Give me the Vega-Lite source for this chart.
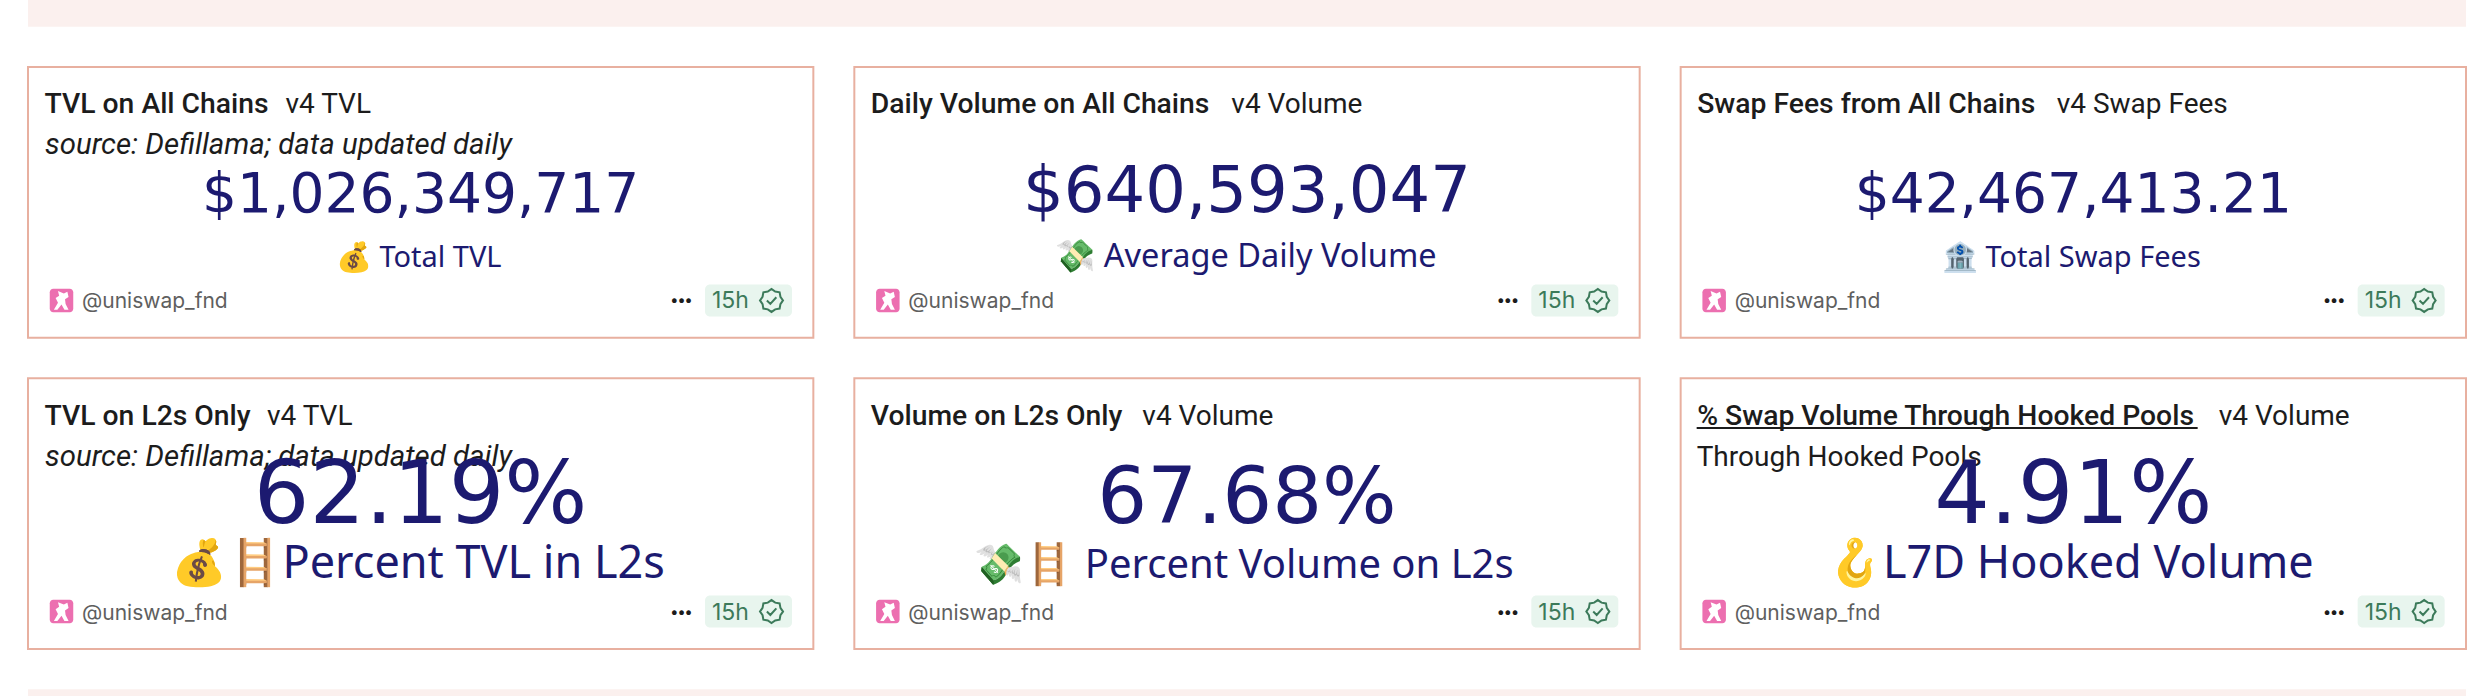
{
  "$schema": "https://vega.github.io/schema/vega-lite/v6.json",
  "width": 2438,
  "height": 696,
  "autosize": "none",
  "padding": {"left": 28, "right": 20, "top": 0, "bottom": 0},
  "background": "white",
  "config": {"view": {"stroke": null}},
  "datasets": {
    "cards": [
      {"card": "tvl_all", "col": "a", "row": "r1", "title": "TVL on All Chains", "tab": "v4 TVL", "note": "source: Defillama; data updated daily", "value": "$1,026,349,717", "label": "💰 Total TVL", "handle": "@uniswap_fnd", "age": "15h"},
      {"card": "vol_all", "col": "b", "row": "r1", "title": "Daily Volume on All Chains", "tab": "v4 Volume", "note": "", "value": "$640,593,047", "label": "💸 Average Daily Volume", "handle": "@uniswap_fnd", "age": "15h"},
      {"card": "fees_all", "col": "c", "row": "r1", "title": "Swap Fees from All Chains", "tab": "v4 Swap Fees", "note": "", "value": "$42,467,413.21", "label": "🏦 Total Swap Fees", "handle": "@uniswap_fnd", "age": "15h"},
      {"card": "tvl_l2", "col": "a", "row": "r2", "title": "TVL on L2s Only", "tab": "v4 TVL", "note": "source: Defillama; data updated daily", "value": "62.19%", "label": "💰🪜Percent TVL in L2s", "handle": "@uniswap_fnd", "age": "15h"},
      {"card": "vol_l2", "col": "b", "row": "r2", "title": "Volume on L2s Only", "tab": "v4 Volume", "note": "", "value": "67.68%", "label": "💸🪜 Percent Volume on L2s", "handle": "@uniswap_fnd", "age": "15h"},
      {"card": "hooked", "col": "c", "row": "r2", "title": "% Swap Volume Through Hooked Pools", "tab": "v4 Volume", "note": "Through Hooked Pools", "value": "4.91%", "label": "🪝L7D Hooked Volume", "handle": "@uniswap_fnd", "age": "15h"}
    ],
    "bands": [{"row": "r0"}, {"row": "r3"}]
  },
  "data": {"name": "cards"},
  "encoding": {
    "x": {"field": "col", "type": "nominal", "axis": null, "scale": {"domain": ["a", "b", "c"], "paddingInner": 0.0496, "paddingOuter": 0}},
    "y": {"field": "row", "type": "nominal", "axis": null, "scale": {"domain": ["r0", "r1", "r2", "r3"], "range": [-244, 960], "paddingInner": 0.13, "paddingOuter": 0}}
  },
  "layer": [
    {
      "data": {"name": "bands"},
      "mark": {"type": "rect", "color": "#fbf0ee", "clip": true},
      "encoding": {"x": {"value": 0}, "x2": {"value": 2438}}
    },
    {"mark": {"type": "rect", "fill": "white", "stroke": "#e8b0a0", "strokeWidth": 2}},
    {
      "mark": {"type": "text", "align": "left", "baseline": "alphabetic", "font": "Roboto", "fontWeight": 500, "fontSize": 28.3, "color": "#1c1c1c", "xOffset": 16.5, "yOffset": -89},
      "encoding": {"x": {"field": "col", "bandPosition": 0}, "text": {"field": "title"}}
    },
    {
      "transform": [{"filter": "datum.card == 'hooked'"}],
      "mark": {"type": "point", "shape": "M-1,-0.004 H1 V0.004 H-1 Z", "size": 251001, "filled": true, "opacity": 1, "color": "#1c1c1c", "xOffset": 266.5, "yOffset": -85.5},
      "encoding": {"x": {"field": "col", "bandPosition": 0}}
    },
    {
      "transform": [{"filter": "datum.card == 'tvl_all'"}],
      "mark": {"type": "text", "align": "left", "baseline": "alphabetic", "font": "Roboto", "fontSize": 28, "color": "#1c1c1c", "xOffset": 257.5, "yOffset": -89},
      "encoding": {"x": {"field": "col", "bandPosition": 0}, "text": {"field": "tab"}}
    },
    {
      "transform": [{"filter": "datum.card == 'vol_all'"}],
      "mark": {"type": "text", "align": "left", "baseline": "alphabetic", "font": "Roboto", "fontSize": 28, "color": "#1c1c1c", "xOffset": 377, "yOffset": -89},
      "encoding": {"x": {"field": "col", "bandPosition": 0}, "text": {"field": "tab"}}
    },
    {
      "transform": [{"filter": "datum.card == 'fees_all'"}],
      "mark": {"type": "text", "align": "left", "baseline": "alphabetic", "font": "Roboto", "fontSize": 28, "color": "#1c1c1c", "xOffset": 376, "yOffset": -89},
      "encoding": {"x": {"field": "col", "bandPosition": 0}, "text": {"field": "tab"}}
    },
    {
      "transform": [{"filter": "datum.card == 'tvl_l2'"}],
      "mark": {"type": "text", "align": "left", "baseline": "alphabetic", "font": "Roboto", "fontSize": 28, "color": "#1c1c1c", "xOffset": 239, "yOffset": -89},
      "encoding": {"x": {"field": "col", "bandPosition": 0}, "text": {"field": "tab"}}
    },
    {
      "transform": [{"filter": "datum.card == 'vol_l2'"}],
      "mark": {"type": "text", "align": "left", "baseline": "alphabetic", "font": "Roboto", "fontSize": 28, "color": "#1c1c1c", "xOffset": 288, "yOffset": -89},
      "encoding": {"x": {"field": "col", "bandPosition": 0}, "text": {"field": "tab"}}
    },
    {
      "transform": [{"filter": "datum.card == 'hooked'"}],
      "mark": {"type": "text", "align": "left", "baseline": "alphabetic", "font": "Roboto", "fontSize": 28, "color": "#1c1c1c", "xOffset": 538, "yOffset": -89},
      "encoding": {"x": {"field": "col", "bandPosition": 0}, "text": {"field": "tab"}}
    },
    {
      "transform": [{"filter": "datum.card != 'hooked'"}],
      "mark": {"type": "text", "align": "left", "baseline": "alphabetic", "font": "Roboto", "fontStyle": "italic", "fontSize": 29.4, "color": "#1c1c1c", "xOffset": 17, "yOffset": -48},
      "encoding": {"x": {"field": "col", "bandPosition": 0}, "text": {"field": "note"}}
    },
    {
      "transform": [{"filter": "datum.card == 'hooked'"}],
      "mark": {"type": "text", "align": "left", "baseline": "alphabetic", "font": "Roboto", "fontSize": 28, "color": "#1c1c1c", "xOffset": 16, "yOffset": -48},
      "encoding": {"x": {"field": "col", "bandPosition": 0}, "text": {"field": "note"}}
    },
    {
      "transform": [{"filter": "datum.card == 'tvl_all' || datum.card == 'fees_all'"}],
      "mark": {"type": "text", "baseline": "alphabetic", "font": "DejaVu Sans", "fontSize": 55, "color": "#1c1a70", "yOffset": 10},
      "encoding": {"text": {"field": "value"}}
    },
    {
      "transform": [{"filter": "datum.card == 'vol_all'"}],
      "mark": {"type": "text", "baseline": "alphabetic", "font": "DejaVu Sans", "fontSize": 64, "color": "#1c1a70", "yOffset": 10},
      "encoding": {"text": {"field": "value"}}
    },
    {
      "transform": [{"filter": "datum.card == 'tvl_l2' || datum.card == 'hooked'"}],
      "mark": {"type": "text", "baseline": "alphabetic", "font": "DejaVu Sans", "fontSize": 87.5, "color": "#1c1a70", "yOffset": 9.5},
      "encoding": {"text": {"field": "value"}}
    },
    {
      "transform": [{"filter": "datum.card == 'vol_l2'"}],
      "mark": {"type": "text", "baseline": "alphabetic", "font": "DejaVu Sans", "fontSize": 78.5, "color": "#1c1a70", "yOffset": 9.5},
      "encoding": {"text": {"field": "value"}}
    },
    {
      "transform": [{"filter": "datum.card == 'tvl_all' || datum.card == 'fees_all'"}],
      "mark": {"type": "text", "baseline": "alphabetic", "font": "Noto Sans", "fontSize": 29, "color": "#1c1a70", "xOffset": -2, "yOffset": 65},
      "encoding": {"text": {"field": "label"}}
    },
    {
      "transform": [{"filter": "datum.card == 'vol_all'"}],
      "mark": {"type": "text", "baseline": "alphabetic", "font": "Noto Sans", "fontSize": 32.5, "color": "#1c1a70", "xOffset": -1, "yOffset": 65},
      "encoding": {"text": {"field": "label"}}
    },
    {
      "transform": [{"filter": "datum.card == 'tvl_l2' || datum.card == 'hooked'"}],
      "mark": {"type": "text", "baseline": "alphabetic", "font": "Noto Sans", "fontSize": 45, "color": "#1c1a70", "xOffset": -3, "yOffset": 64.5},
      "encoding": {"text": {"field": "label"}}
    },
    {
      "transform": [{"filter": "datum.card == 'vol_l2'"}],
      "mark": {"type": "text", "baseline": "alphabetic", "font": "Noto Sans", "fontSize": 40, "color": "#1c1a70", "xOffset": -3, "yOffset": 64.5},
      "encoding": {"text": {"field": "label"}}
    },
    {
      "mark": {"type": "point", "shape": "M-0.7,-1 H0.7 A0.3,0.3 0 0 1 1,-0.7 V0.7 A0.3,0.3 0 0 1 0.7,1 H-0.7 A0.3,0.3 0 0 1 -1,0.7 V-0.7 A0.3,0.3 0 0 1 -0.7,-1 Z", "size": 552, "filled": true, "opacity": 1, "color": "#ec6fb0", "xOffset": 33.5, "yOffset": 98},
      "encoding": {"x": {"field": "col", "bandPosition": 0}}
    },
    {
      "mark": {"type": "point", "shape": "M-0.3,-0.8 L0.2,-0.6 L0.5,-0.75 L0.6,-0.3 L0.3,-0.1 L0.35,0.3 L0.6,0.8 L0.25,0.8 L0,0.35 L-0.35,0.8 L-0.65,0.8 L-0.3,0.2 L-0.5,-0.2 L-0.2,-0.4 Z", "size": 552, "filled": true, "opacity": 1, "color": "white", "xOffset": 33.5, "yOffset": 98},
      "encoding": {"x": {"field": "col", "bandPosition": 0}}
    },
    {
      "mark": {"type": "text", "align": "left", "baseline": "alphabetic", "font": "Inter", "fontSize": 21, "color": "#5f5f5f", "xOffset": 54, "yOffset": 106},
      "encoding": {"x": {"field": "col", "bandPosition": 0}, "text": {"field": "handle"}}
    },
    {
      "mark": {"type": "text", "align": "center", "baseline": "middle", "font": "Inter", "fontSize": 15, "fontWeight": 700, "color": "#1c1c1c", "xOffset": 653.5, "yOffset": 98},
      "encoding": {"x": {"field": "col", "bandPosition": 0}, "text": {"value": "•••"}}
    },
    {
      "mark": {"type": "point", "shape": "M-0.885,-0.368 H0.885 A0.115,0.115 0 0 1 1,-0.253 V0.253 A0.115,0.115 0 0 1 0.885,0.368 H-0.885 A0.115,0.115 0 0 1 -1,0.253 V-0.253 A0.115,0.115 0 0 1 -0.885,-0.368 Z", "size": 7569, "filled": true, "opacity": 1, "color": "#e8f5ee", "xOffset": 720.5, "yOffset": 98},
      "encoding": {"x": {"field": "col", "bandPosition": 0}}
    },
    {
      "mark": {"type": "text", "align": "left", "baseline": "alphabetic", "font": "Inter", "fontSize": 23, "color": "#3c7a5a", "xOffset": 684, "yOffset": 106},
      "encoding": {"x": {"field": "col", "bandPosition": 0}, "text": {"field": "age"}}
    },
    {
      "mark": {"type": "point", "shape": "M1,0 L.776,.321 L.707,.707 L.321,.776 L0,1 L-.321,.776 L-.707,.707 L-.776,.321 L-1,0 L-.776,-.321 L-.707,-.707 L-.321,-.776 L0,-1 L.321,-.776 L.707,-.707 L.776,-.321 Z M-0.4,0 L-0.1,0.3 L0.42,-0.28", "size": 529, "filled": false, "opacity": 1, "strokeWidth": 2, "color": "#3c7a5a", "xOffset": 743.5, "yOffset": 98},
      "encoding": {"x": {"field": "col", "bandPosition": 0}}
    }
  ]
}
